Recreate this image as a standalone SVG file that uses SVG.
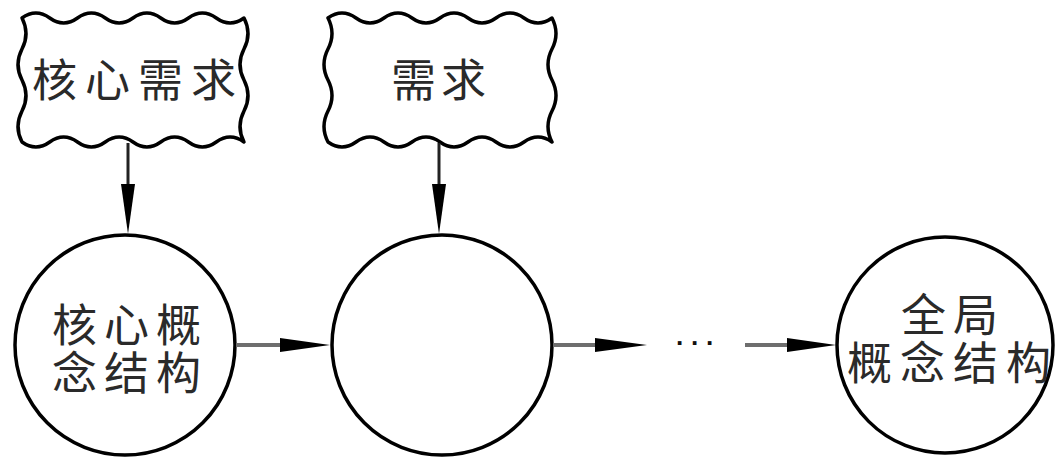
<svg xmlns="http://www.w3.org/2000/svg" width="1055" height="460" viewBox="0 0 1055 460">
<style>
.wave{fill:#fff;stroke:#000;stroke-width:3.5;stroke-linejoin:round}
.node{fill:#fff;stroke:#000;stroke-width:3.5}
.lbl{font-family:"Noto Sans CJK SC","Noto Sans CJK JP",sans-serif;font-size:45px;fill:#2a2a2a}
.lineh{stroke:#6e6e6e;stroke-width:4}
.linev{stroke:#222;stroke-width:3}
.head{fill:#000}
</style>
<rect width="1055" height="460" fill="#fff"/>
<g id="req-core">
<path class="wave" d="M22,18 q13.875,-10 27.75,0 t27.75,0 t27.75,0 t27.75,0 t27.75,0 t27.75,0 t27.75,0 t27.75,0 q8,15.5 0,31 t0,31 t0,31 t0,31 q-13.875,-10 -27.75,0 t-27.75,0 t-27.75,0 t-27.75,0 t-27.75,0 t-27.75,0 t-27.75,0 t-27.75,0 q-8,-15.5 0,-31 t0,-31 t0,-31 t0,-31 z"/>
<text class="lbl" x="32 85 138 191" y="97">核心需求</text>
</g>
<g id="req">
<path class="wave" d="M328,18 q14,-10 28,0 t28,0 t28,0 t28,0 t28,0 t28,0 t28,0 t28,0 q8,15.5 0,31 t0,31 t0,31 t0,31 q-14,-10 -28,0 t-28,0 t-28,0 t-28,0 t-28,0 t-28,0 t-28,0 t-28,0 q-8,-15.5 0,-31 t0,-31 t0,-31 t0,-31 z"/>
<text class="lbl" x="391 441" y="97">需求</text>
</g>
<g id="core-structure">
<circle class="node" cx="125" cy="345" r="110"/>
<text class="lbl" x="52 104 156" y="342">核心概</text>
<text class="lbl" x="52 104 156" y="390">念结构</text>
</g>
<g id="mid-structure">
<circle class="node" cx="442" cy="345" r="110"/>
</g>
<g id="global-structure">
<circle class="node" cx="945" cy="345" r="108"/>
<text class="lbl" x="901 953" y="332">全局</text>
<text class="lbl" x="847 900 953 1006" y="380">概念结构</text>
</g>
<g id="connectors">
<line class="linev" x1="128" y1="143" x2="128" y2="190"/>
<polygon class="head" points="121,184 135,184 128,234"/>
<line class="linev" x1="439" y1="143" x2="439" y2="190"/>
<polygon class="head" points="432,184 446,184 439,234"/>
<line class="lineh" x1="236" y1="345" x2="285" y2="345"/>
<polygon class="head" points="280,338 280,352 330,345"/>
<line class="lineh" x1="553" y1="345" x2="600" y2="345"/>
<polygon class="head" points="595,338 595,352 647,345"/>
<line class="lineh" x1="745" y1="345" x2="792" y2="345"/>
<polygon class="head" points="787,338 787,352 836,345"/>
<text x="676 691 706" y="352" font-family="Liberation Sans,sans-serif" font-size="26" font-weight="bold" fill="#111">···</text>
</g>
</svg>
